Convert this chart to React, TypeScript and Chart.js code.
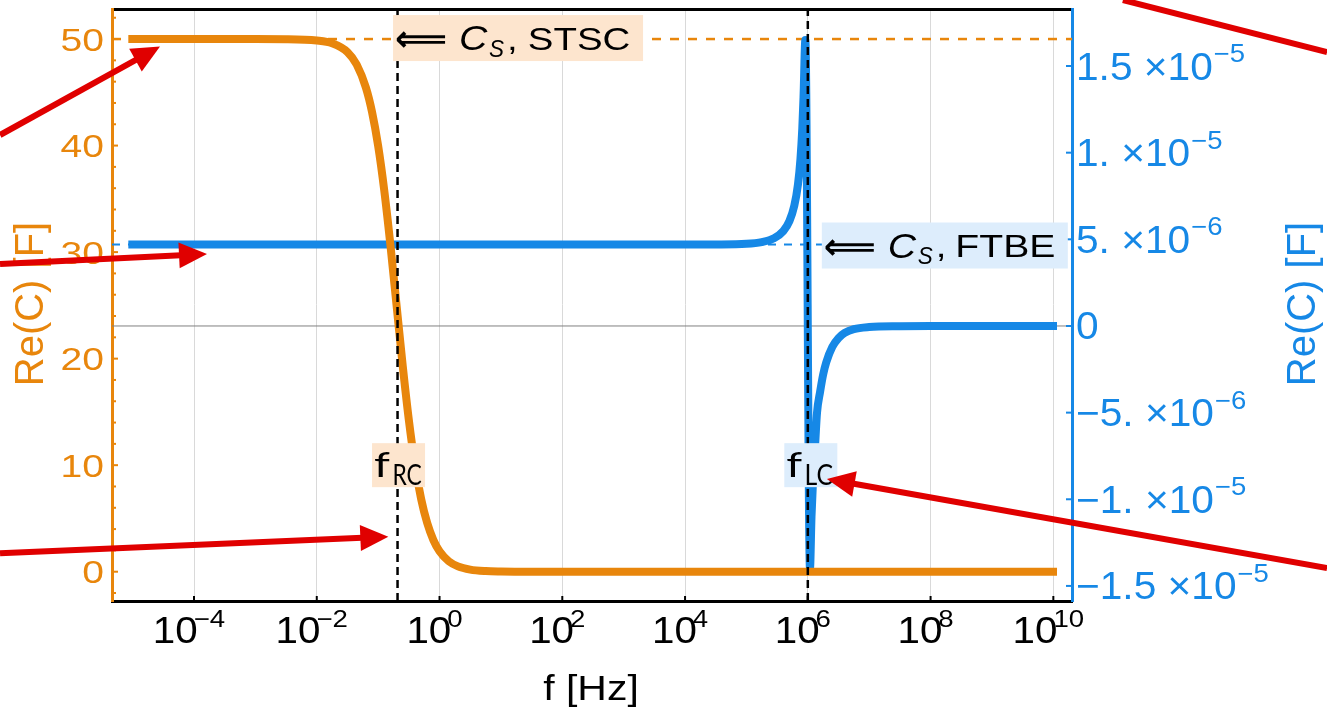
import React, { useEffect, useRef } from "react";
import { Chart, registerables } from "chart.js";

Chart.register(...registerables);

const W = 1327;
const H = 708;

// ---------- axes ----------
// frequency axis, written as log10(f / Hz)
const xTickExps = [-4, -2, 0, 2, 4, 6, 8, 10];
const xRangeExp = [-5.336, 10.304];

// left axis: Re(C) of STSC [F]
const leftRange = [-2.75, 52.82];
const leftMajorTicks = [0, 10, 20, 30, 40, 50];
const leftMinorTicks = [-2, 2, 4, 6, 8, 12, 14, 16, 18, 22, 24, 26, 28, 32, 34, 36, 38, 42, 44, 46, 48, 52];

// right axis: Re(C) of FTBE [F]
const rightRange = [-15.87e-6, 18.29e-6];
const rightTicks = [-1.5e-5, -1e-5, -5e-6, 0, 5e-6, 1e-5, 1.5e-5];
const rightTickMantissa = ["\u22121.5", "\u22121.", "\u22125.", "0", "5.", "1.", "1.5"];
const rightTickExponent = ["\u22125", "\u22125", "\u22126", "", "\u22126", "\u22125", "\u22125"];

// ---------- series ----------
const orangeLogF = [-5.07, -4, -3, -2.5, -2, -1.75, -1.5, -1.35, -1.2, -1.1, -1.0, -0.9, -0.8, -0.7, -0.6, -0.5, -0.4, -0.3, -0.2, -0.1, 0, 0.15, 0.3, 0.5, 0.75, 1, 1.5, 2, 4, 6, 8, 10.06];
const orangeReC = [50, 50, 50, 49.99, 49.87, 49.61, 48.78, 47.61, 45.45, 43.16, 39.97, 35.77, 30.66, 25, 19.34, 14.24, 10.04, 6.84, 4.55, 2.97, 1.92, 0.98, 0.5, 0.2, 0.06, 0.02, 0, 0, 0, 0, 0, 0];

const blueLogF = [-5.07, 0, 3, 4, 4.5, 5, 5.25, 5.45, 5.6, 5.7, 5.78, 5.84, 5.88, 5.91, 5.93, 5.96, 6.035, 6.06, 6.09, 6.12, 6.15, 6.2, 6.25, 6.3, 6.4, 6.5, 6.6, 6.75, 7, 7.5, 8, 10.06];
const blueReC = [4.7e-6, 4.7e-6, 4.7e-6, 4.7e-6, 4.705e-6, 4.74e-6, 4.84e-6, 5.06e-6, 5.47e-6, 6.05e-6, 6.94e-6, 8.18e-6, 9.63e-6, 11.4e-6, 13.2e-6, 16.5e-6, -14.0e-6, -11.0e-6, -8.5e-6, -6.8e-6, -5.0e-6, -3.8e-6, -2.8e-6, -2.1e-6, -1.2e-6, -0.7e-6, -0.4e-6, -0.18e-6, -0.06e-6, -0.01e-6, 0, 0];

// reference values
const cSTSC = 50;
const cFTBE = 4.7e-6;
const fRC = 0.207;
const fLC = 1e6;

// annotation arrows: [log10 f, left-axis value]
const arrowFrom = [[-7.16, 40.99], [-7.16, 28.88], [-7.16, 1.727], [14.459, 0.347], [11.134, 53.66]];
const arrowTo = [[-4.554, 49.3], [-3.788, 29.82], [-0.834, 3.285], [6.311, 8.7], [14.459, 48.78]];
const arrowHasHead = [true, true, true, true, false];

// ---------- styles ----------
const ORANGE = "#E8860C";
const BLUE = "#1688E6";
const RED = "#E00000";
const PEACH_BG = "#FDE5CE";
const BLUE_BG = "#DDEDFC";
const SANS = '"Liberation Sans", Arial, Helvetica, sans-serif';

const xMin = Math.pow(10, xRangeExp[0]);
const xMax = Math.pow(10, xRangeExp[1]);

function drawText(ctx: CanvasRenderingContext2D, s: string, x: number, y: number, font: string, color: string, sx = 1, align: "left" | "center" | "right" = "left") {
  ctx.save();
  ctx.font = font;
  ctx.fillStyle = color;
  ctx.textAlign = "left";
  ctx.textBaseline = "alphabetic";
  const w = ctx.measureText(s).width * sx;
  const x0 = align === "center" ? x - w / 2 : align === "right" ? x - w : x;
  ctx.translate(x0, y);
  ctx.scale(sx, 1);
  ctx.fillText(s, 0, 0);
  ctx.restore();
  return w;
}

function textWidth(ctx: CanvasRenderingContext2D, s: string, font: string, sx = 1) {
  ctx.save();
  ctx.font = font;
  const w = ctx.measureText(s).width * sx;
  ctx.restore();
  return w;
}

function drawFit(ctx: CanvasRenderingContext2D, s: string, font: string, color: string, inkLeft: number, baseline: number, targetW: number) {
  ctx.save();
  ctx.font = font;
  ctx.fillStyle = color;
  ctx.textAlign = "left";
  ctx.textBaseline = "alphabetic";
  const m = ctx.measureText(s);
  const l = m.actualBoundingBoxLeft;
  const w = m.actualBoundingBoxLeft + m.actualBoundingBoxRight;
  const sx = w > 0 ? targetW / w : 1;
  ctx.translate(inkLeft, baseline);
  ctx.scale(sx, 1);
  ctx.fillText(s, l, 0);
  ctx.restore();
}

function csLabel(ctx: CanvasRenderingContext2D, x0: number, yc: number, word: string, bg: string, wordInkW: number) {
  const WORD_FONT = `32px ${SANS}`;
  const right = x0 + 136 + wordInkW + 14;
  ctx.save();
  ctx.fillStyle = bg;
  ctx.fillRect(x0, yc - 23, right - x0, 46);
  ctx.restore();

  // long double arrow
  ctx.save();
  ctx.font = `bold 32px "DejaVu Sans", ${SANS}`;
  ctx.textAlign = "left";
  ctx.textBaseline = "alphabetic";
  const m = ctx.measureText("\u27F8");
  const inkL = m.actualBoundingBoxLeft;
  const inkW = m.actualBoundingBoxLeft + m.actualBoundingBoxRight;
  const asc = m.actualBoundingBoxAscent;
  const desc = m.actualBoundingBoxDescent;
  const sx = inkW > 0 ? 50 / inkW : 1;
  const sy = asc + desc > 0 ? 18 / (asc + desc) : 1;
  ctx.translate(x0 + 3, yc + 2);
  ctx.scale(sx, sy);
  ctx.fillStyle = "#000";
  ctx.fillText("\u27F8", inkL, (asc - desc) / 2);
  ctx.restore();

  drawFit(ctx, "C", `italic 35px ${SANS}`, "#000", x0 + 67, yc + 12, 28);
  drawFit(ctx, "S", `italic 24px ${SANS}`, "#000", x0 + 96, yc + 18.5, 15);
  drawText(ctx, ",", x0 + 114, yc + 11.5, WORD_FONT, "#000", 1.2);
  drawFit(ctx, word, WORD_FONT, "#000", x0 + 136, yc + 11.5, wordInkW);
}

function fLabel(ctx: CanvasRenderingContext2D, cx: number, cy: number, sub: string, bg: string, subInkW: number) {
  const x0 = cx - 26.5;
  const y0 = cy - 22;
  ctx.save();
  ctx.fillStyle = bg;
  ctx.fillRect(x0, y0, 53, 44);
  ctx.restore();
  drawFit(ctx, "f", `34px Lato, ${SANS}`, "#000", x0 + 2, cy + 11.7, 16);
  drawFit(ctx, sub, `28px Lato, ${SANS}`, "#000", x0 + 22, cy + 20, subInkW);
}

function drawArrow(ctx: CanvasRenderingContext2D, x1: number, y1: number, x2: number, y2: number, head: boolean) {
  const ang = Math.atan2(y2 - y1, x2 - x1);
  const L = 28;
  const Wd = 13;
  const c = Math.cos(ang);
  const s = Math.sin(ang);
  const bx = head ? x2 - L * c : x2;
  const by = head ? y2 - L * s : y2;
  ctx.save();
  ctx.strokeStyle = RED;
  ctx.fillStyle = RED;
  ctx.lineWidth = 6;
  ctx.lineCap = "butt";
  ctx.beginPath();
  ctx.moveTo(x1, y1);
  ctx.lineTo(head ? bx + 2 * c : x2, head ? by + 2 * s : y2);
  ctx.stroke();
  if (head) {
    ctx.beginPath();
    ctx.moveTo(x2, y2);
    ctx.lineTo(bx + Wd * s, by - Wd * c);
    ctx.lineTo(bx - Wd * s, by + Wd * c);
    ctx.closePath();
    ctx.fill();
  }
  ctx.restore();
}

const decorPlugin = {
  id: "decor",
  afterDraw(chart: any) {
    const ctx: CanvasRenderingContext2D = chart.ctx;
    const xs = chart.scales.x;
    const yl = chart.scales.y;
    const yr = chart.scales.y1;
    const ca = chart.chartArea;

    // inward tick marks
    ctx.save();
    ctx.lineWidth = 2;
    ctx.strokeStyle = "#000";
    for (const e of xTickExps) {
      const px = xs.getPixelForValue(Math.pow(10, e));
      ctx.beginPath();
      ctx.moveTo(px, ca.bottom);
      ctx.lineTo(px, ca.bottom - 5);
      ctx.stroke();
    }
    ctx.strokeStyle = ORANGE;
    for (const v of leftMajorTicks) {
      const py = yl.getPixelForValue(v);
      ctx.beginPath();
      ctx.moveTo(ca.left, py);
      ctx.lineTo(ca.left + 6, py);
      ctx.stroke();
    }
    for (const v of leftMinorTicks) {
      const py = yl.getPixelForValue(v);
      ctx.beginPath();
      ctx.moveTo(ca.left, py);
      ctx.lineTo(ca.left + 4, py);
      ctx.stroke();
    }
    ctx.strokeStyle = BLUE;
    for (const v of rightTicks) {
      const py = yr.getPixelForValue(v);
      ctx.beginPath();
      ctx.moveTo(ca.right, py);
      ctx.lineTo(ca.right - 6, py);
      ctx.stroke();
    }
    ctx.restore();

    // x tick labels
    const MAIN_X = `36px ${SANS}`;
    const SUP_X = `24px ${SANS}`;
    for (const e of xTickExps) {
      const px = xs.getPixelForValue(Math.pow(10, e));
      const sup = e < 0 ? "\u2212" + Math.abs(e) : String(e);
      const w1 = textWidth(ctx, "10", MAIN_X, 1.12);
      const w2 = textWidth(ctx, sup, SUP_X, 1.15);
      const x0 = px - (w1 + w2) / 2 - 3;
      drawText(ctx, "10", x0, ca.bottom + 42, MAIN_X, "#000", 1.12);
      drawText(ctx, sup, x0 + w1 - 4, ca.bottom + 26, SUP_X, "#000", 1.15);
    }

    // left tick labels
    for (const v of leftMajorTicks) {
      const py = yl.getPixelForValue(v);
      drawText(ctx, String(v), ca.left - 8, py + 11.5, `32px ${SANS}`, ORANGE, 1.22, "right");
    }

    // right tick labels
    rightTicks.forEach((v, i) => {
      const py = yr.getPixelForValue(v);
      const exp = rightTickExponent[i];
      const s = rightTickMantissa[i] + (exp ? " \u00D710" : "");
      const w = drawText(ctx, s, ca.right + 4, py + 13.5, `38px ${SANS}`, BLUE, 1.07);
      if (exp) drawText(ctx, exp, ca.right + 4 + w + 1, py - 4, `25px ${SANS}`, BLUE, 1.1);
    });

    // axis titles
    drawText(ctx, "f [Hz]", (ca.left + ca.right) / 2 - 1, 700, `35px ${SANS}`, "#000", 1.17, "center");
    const yMid = (ca.top + ca.bottom) / 2 - 1;
    ctx.save();
    ctx.font = `40px ${SANS}`;
    ctx.textAlign = "center";
    ctx.textBaseline = "alphabetic";
    ctx.fillStyle = ORANGE;
    ctx.translate(43, yMid);
    ctx.rotate(-Math.PI / 2);
    ctx.fillText("Re(C) [F]", 0, 0);
    ctx.restore();
    ctx.save();
    ctx.font = `40px ${SANS}`;
    ctx.textAlign = "center";
    ctx.textBaseline = "alphabetic";
    ctx.fillStyle = BLUE;
    ctx.translate(1315, yMid);
    ctx.rotate(-Math.PI / 2);
    ctx.fillText("Re(C) [F]", 0, 0);
    ctx.restore();

    // annotation labels
    const pxRC = xs.getPixelForValue(fRC);
    const pxLC = xs.getPixelForValue(fLC);
    csLabel(ctx, pxRC - 4.5, yl.getPixelForValue(cSTSC) - 1, "STSC", PEACH_BG, 100);
    csLabel(ctx, pxLC + 14, yr.getPixelForValue(cFTBE) + 1, "FTBE", BLUE_BG, 96);
    fLabel(ctx, pxRC + 1, yl.getPixelForValue(10), "RC", PEACH_BG, 28);
    fLabel(ctx, pxLC + 3, yl.getPixelForValue(10), "LC", BLUE_BG, 27);

    // red arrows
    arrowFrom.forEach((a, i) => {
      const b = arrowTo[i];
      drawArrow(
        ctx,
        xs.getPixelForValue(Math.pow(10, a[0])),
        yl.getPixelForValue(a[1]),
        xs.getPixelForValue(Math.pow(10, b[0])),
        yl.getPixelForValue(b[1]),
        arrowHasHead[i]
      );
    });
  },
};

export default function App() {
  const ref = useRef<HTMLCanvasElement>(null);

  useEffect(() => {
    const canvas = ref.current;
    if (!canvas) return;

    const orangeData = orangeLogF.map((e, i) => ({ x: Math.pow(10, e), y: orangeReC[i] }));
    const blueData = blueLogF.map((e, i) => ({ x: Math.pow(10, e), y: blueReC[i] }));

    const chart = new Chart(canvas, {
      type: "line",
      data: {
        datasets: [
          {
            label: "f_RC",
            data: [{ x: fRC, y: leftRange[0] }, { x: fRC, y: leftRange[1] }],
            xAxisID: "x",
            yAxisID: "y",
            borderColor: "#000",
            borderWidth: 2.5,
            borderDash: [8, 5],
            pointRadius: 0,
            order: 0,
          },
          {
            label: "f_LC",
            data: [{ x: fLC, y: leftRange[0] }, { x: fLC, y: leftRange[1] }],
            xAxisID: "x",
            yAxisID: "y",
            borderColor: "#000",
            borderWidth: 2.5,
            borderDash: [8, 5],
            pointRadius: 0,
            order: 0,
          },
          {
            label: "STSC",
            data: orangeData,
            xAxisID: "x",
            yAxisID: "y",
            borderColor: ORANGE,
            borderWidth: 8,
            pointRadius: 0,
            cubicInterpolationMode: "monotone",
            borderJoinStyle: "round",
            order: 1,
          },
          {
            label: "FTBE",
            data: blueData,
            xAxisID: "x",
            yAxisID: "y1",
            borderColor: BLUE,
            borderWidth: 8,
            pointRadius: 0,
            cubicInterpolationMode: "monotone",
            borderJoinStyle: "round",
            order: 2,
          },
          {
            label: "C_S STSC",
            data: [{ x: xMin, y: cSTSC }, { x: xMax, y: cSTSC }],
            xAxisID: "x",
            yAxisID: "y",
            borderColor: ORANGE,
            borderWidth: 2.5,
            borderDash: [9, 9],
            pointRadius: 0,
            order: 3,
          },
          {
            label: "C_S FTBE",
            data: [{ x: xMin, y: cFTBE }, { x: xMax, y: cFTBE }],
            xAxisID: "x",
            yAxisID: "y1",
            borderColor: BLUE,
            borderWidth: 2,
            borderDash: [8, 8],
            pointRadius: 0,
            order: 3,
          },
          {
            label: "zero",
            data: [{ x: xMin, y: 0 }, { x: xMax, y: 0 }],
            xAxisID: "x",
            yAxisID: "y1",
            borderColor: "#808080",
            borderWidth: 1,
            pointRadius: 0,
            order: 4,
          },
        ],
      },
      options: {
        responsive: false,
        animation: false,
        devicePixelRatio: 1,
        events: [],
        layout: { padding: 0 },
        plugins: {
          legend: { display: false },
          tooltip: { enabled: false },
          title: { display: false },
        },
        scales: {
          x: {
            type: "logarithmic",
            position: "bottom",
            min: xMin,
            max: xMax,
            afterBuildTicks: (s: any) => {
              s.ticks = xTickExps.map((e) => ({ value: Math.pow(10, e) }));
            },
            afterFit: (s: any) => {
              s.height = 107;
            },
            ticks: { display: false },
            grid: { display: true, color: "#D9D9D9", lineWidth: 1, drawTicks: false },
            border: { display: true, color: "#000", width: 3 },
          },
          x2: {
            type: "logarithmic",
            position: "top",
            min: xMin,
            max: xMax,
            afterFit: (s: any) => {
              s.height = 9;
            },
            ticks: { display: false },
            grid: { display: false, drawTicks: false },
            border: { display: true, color: "#000", width: 3 },
          },
          y: {
            type: "linear",
            position: "left",
            min: leftRange[0],
            max: leftRange[1],
            afterFit: (s: any) => {
              s.width = 112;
            },
            ticks: { display: false },
            grid: { display: false, drawTicks: false },
            border: { display: true, color: ORANGE, width: 3 },
          },
          y1: {
            type: "linear",
            position: "right",
            min: rightRange[0],
            max: rightRange[1],
            afterFit: (s: any) => {
              s.width = 255;
            },
            ticks: { display: false },
            grid: { display: false, drawTicks: false },
            border: { display: true, color: BLUE, width: 3 },
          },
        },
      } as any,
      plugins: [decorPlugin],
    } as any);

    return () => chart.destroy();
  }, []);

  return (
    <div style={{ position: "fixed", left: 0, top: 0, width: W, height: H, background: "#fff" }}>
      <canvas ref={ref} width={W} height={H} style={{ display: "block", width: W, height: H }} />
    </div>
  );
}
